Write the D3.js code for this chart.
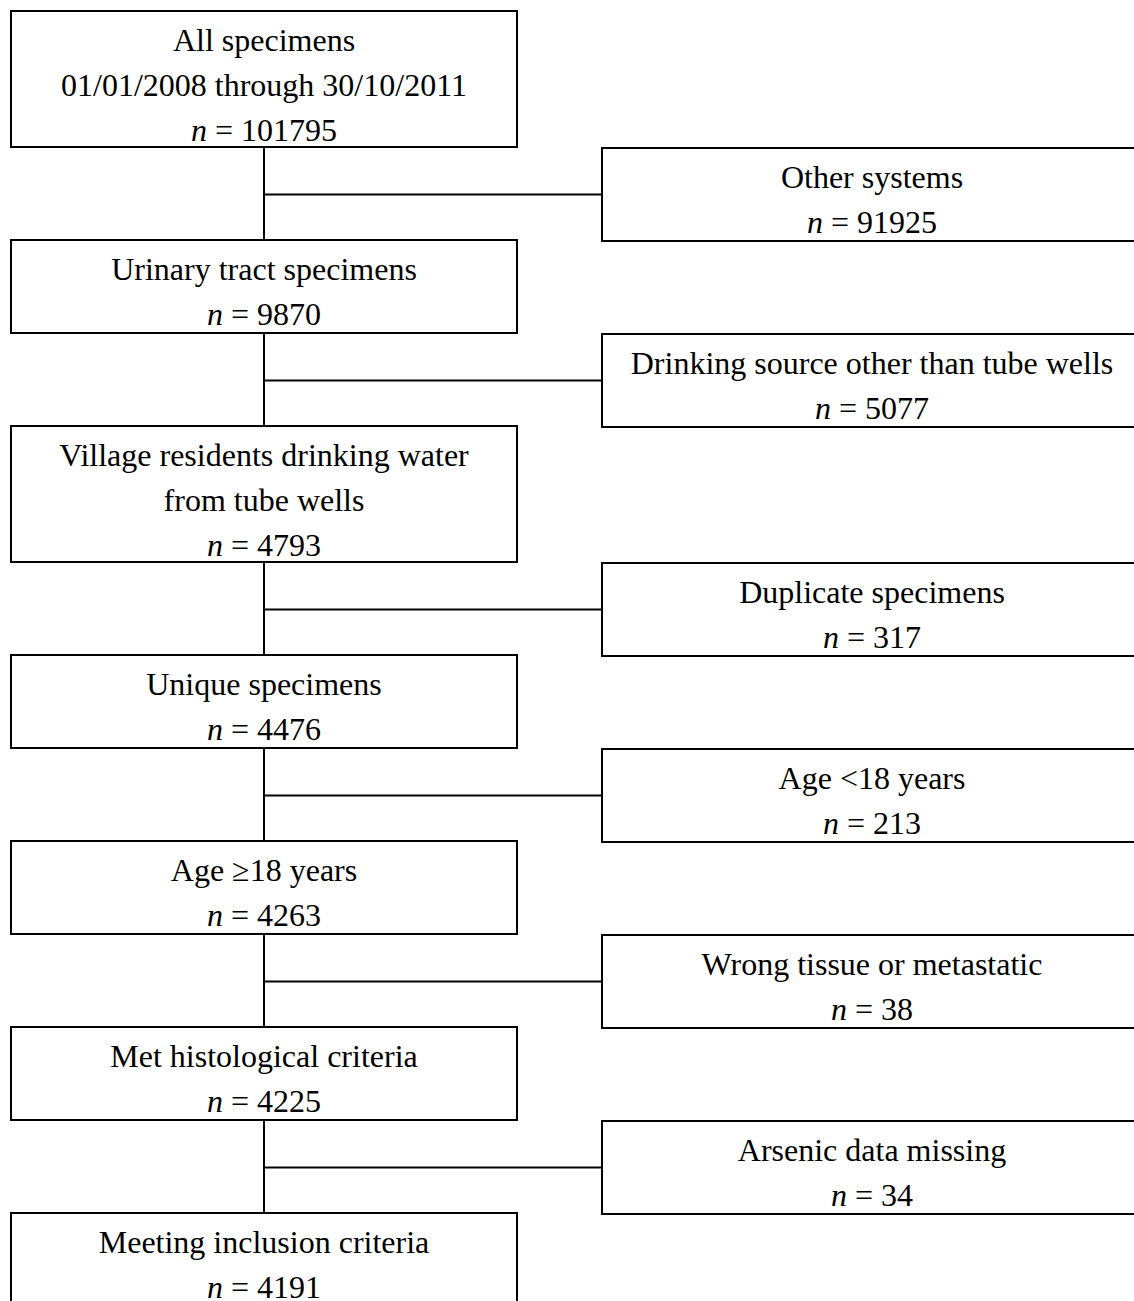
<!DOCTYPE html>
<html>
<head>
<meta charset="utf-8">
<script src="https://cdn.jsdelivr.net/npm/d3@7"></script>
<style>
  body { margin: 0; background: #fff; }
  svg { display: block; }
  text { font-family: "Liberation Serif", "Times New Roman", serif; font-size: 32px; fill: #000; }
</style>
</head>
<body>
<svg id="chart" width="1134" height="1301"></svg>
<script>
// flow steps (left column) and exclusions (right column)
var stepLabels = [
    ["All specimens", "01/01/2008 through 30/10/2011"],
    ["Urinary tract specimens"],
    ["Village residents drinking water", "from tube wells"],
    ["Unique specimens"],
    ["Age \u226518 years"],
    ["Met histological criteria"],
    ["Meeting inclusion criteria"]
];
var stepCounts = [101795, 9870, 4793, 4476, 4263, 4225, 4191];

var exclLabels = [
    "Other systems",
    "Drinking source other than tube wells",
    "Duplicate specimens",
    "Age <18 years",
    "Wrong tissue or metastatic",
    "Arsenic data missing"
];
var exclCounts = [91925, 5077, 317, 213, 38, 34];

var svg = d3.select("#chart");

var lineH = 45, gap = 93;
var leftX = 11, leftW = 506;
var rightX = 602, rightW = 540;
var midX = leftX + leftW / 2;

function boxH(nLines) { return 43 * nLines + 7; }

// compute vertical layout
var steps = [];
var y = 11;
stepLabels.forEach(function(lbl, i) {
    var h = boxH(lbl.length + 1);
    steps.push({y: y, h: h, lines: lbl, n: stepCounts[i]});
    y += h + gap;
});

var excl = exclLabels.map(function(lbl, i) {
    var top = steps[i].y + steps[i].h + 1;
    var bot = steps[i + 1].y + 1;
    return {y: top, h: bot - top, lines: [lbl], n: exclCounts[i]};
});

var g = svg.append("g");

// connectors
excl.forEach(function(e, i) {
    var cy = e.y + e.h / 2;
    g.append("line")
        .attr("x1", midX).attr("x2", midX)
        .attr("y1", steps[i].y + steps[i].h).attr("y2", steps[i + 1].y)
        .attr("stroke", "#000").attr("stroke-width", 2);
    g.append("line")
        .attr("x1", midX).attr("x2", rightX)
        .attr("y1", cy).attr("y2", cy)
        .attr("stroke", "#000").attr("stroke-width", 2);
});

function drawBox(d, x, w) {
    g.append("rect")
        .attr("x", x).attr("y", d.y)
        .attr("width", w).attr("height", d.h)
        .attr("fill", "#fff")
        .attr("stroke", "#000").attr("stroke-width", 2);
    var cx = x + w / 2;
    d.lines.forEach(function(t, j) {
        g.append("text")
            .attr("x", cx).attr("y", d.y + 29 + j * lineH)
            .attr("dy", "0.35em")
            .attr("text-anchor", "middle")
            .text(t);
    });
    var nt = g.append("text")
        .attr("x", cx).attr("y", d.y + 29 + d.lines.length * lineH)
        .attr("dy", "0.35em")
        .attr("text-anchor", "middle");
    nt.append("tspan").attr("font-style", "italic").text("n");
    nt.append("tspan").text(" = " + d.n);
}

steps.forEach(function(d) { drawBox(d, leftX, leftW); });
excl.forEach(function(d) { drawBox(d, rightX, rightW); });
</script>
</body>
</html>
